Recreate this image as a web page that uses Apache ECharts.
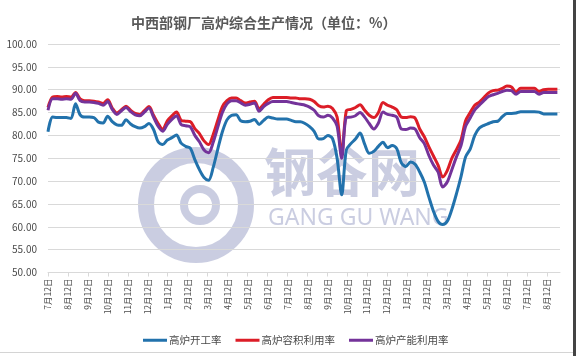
<!DOCTYPE html>
<html>
<head>
<meta charset="utf-8">
<script src="https://cdn.jsdelivr.net/npm/echarts@6/dist/echarts.min.js"></script>
<style>
html,body{margin:0;padding:0;background:#fff;}
#c{width:576px;height:356px;}
</style>
</head>
<body>
<div id="c"></div>
<script>
// Tick labels (monthly, on the 12th)
const monthLabels = ['7月12日','8月12日','9月12日','10月12日','11月12日','12月12日','1月12日','2月12日','3月12日','4月12日','5月12日','6月12日','7月12日','8月12日','9月12日','10月12日','11月12日','12月12日','1月12日','2月12日','3月12日','4月12日','5月12日','6月12日','7月12日','8月12日'];
const seriesNames = ['高炉开工率','高炉容积利用率','高炉产能利用率'];
// Weekly values starting at the first 7月12日
const openRate = [80.8,84.0,83.9,83.9,83.9,83.7,86.9,84.5,84.0,84.0,83.9,82.9,82.7,84.2,83.0,82.3,82.2,83.4,82.5,81.9,81.6,81.9,82.6,81.3,78.6,78.0,79.0,79.5,80.1,78.3,77.6,77.2,74.7,72.5,70.8,70.2,73.0,77.0,80.8,83.4,84.4,84.5,83.2,83.0,83.1,83.5,82.4,83.3,84.0,83.8,83.6,83.6,83.6,83.3,83.0,83.0,82.6,81.9,80.9,79.2,79.3,80.0,79.3,75.0,67.0,76.8,78.2,79.2,80.5,78.1,76.1,76.5,77.6,78.5,77.3,77.8,77.1,74.0,73.2,74.2,73.7,72.0,69.8,66.5,63.4,61.2,60.5,61.2,63.8,67.2,71.0,75.3,77.0,80.0,81.6,82.2,82.6,83.0,83.1,84.1,84.8,84.8,84.9,85.2,85.2,85.2,85.2,85.1,84.7,84.7,84.7,84.7];
const volumeRate = [86.1,88.4,88.5,88.4,88.5,88.4,89.4,88.0,87.6,87.6,87.5,87.3,87.0,87.8,86.0,84.9,85.6,86.4,85.5,84.8,84.6,85.4,86.3,84.4,82.6,81.3,83.2,84.3,85.1,83.3,83.1,83.0,81.5,80.4,78.8,78.0,80.2,83.3,86.3,87.6,88.2,88.2,87.6,87.1,87.3,87.5,85.8,86.8,87.8,88.3,88.3,88.3,88.3,88.2,88.2,88.0,88.0,87.9,87.4,86.5,86.2,86.4,85.9,84.0,75.8,85.4,85.7,86.1,86.7,85.5,84.4,83.9,85.0,87.2,86.6,86.2,85.6,84.0,83.9,84.1,83.8,81.4,79.7,77.5,75.5,73.5,70.9,72.3,75.0,76.9,79.0,83.2,85.0,86.6,87.3,88.3,89.3,89.8,89.9,90.3,90.8,90.6,89.5,90.3,90.3,90.3,90.3,89.6,90.0,90.1,90.1,90.1];
const capacityRate = [85.5,88.0,88.0,87.9,88.0,87.9,89.2,87.6,87.3,87.3,87.2,87.0,86.6,87.4,85.7,84.6,85.4,86.1,85.2,84.5,84.3,85.1,86.0,84.0,82.0,80.9,82.4,83.5,84.3,82.4,82.1,81.9,80.0,78.6,76.8,76.2,78.5,81.8,85.0,86.9,87.6,87.6,87.1,86.6,86.8,87.1,85.3,86.3,87.0,87.4,87.4,87.4,87.4,87.2,87.0,86.8,86.6,86.2,85.5,84.3,84.0,84.4,83.8,82.0,75.0,83.9,84.0,84.3,85.0,84.0,82.6,81.4,82.7,85.1,84.6,84.4,84.0,81.4,81.3,81.6,81.4,79.5,78.2,75.6,73.5,72.0,68.7,69.8,72.5,75.3,77.8,82.0,83.8,85.6,86.6,87.6,88.5,88.9,89.2,89.6,89.9,89.8,89.0,89.6,89.6,89.6,89.6,89.0,89.4,89.4,89.4,89.4];

const DAYS_PER_MONTH = 365.25 / 12;
const toPairs = arr => arr.map((v, i) => [i * 7, v]);
const monthTicks = monthLabels.map((_, k) => k * DAYS_PER_MONTH);

const chart = echarts.init(document.getElementById('c'), null, {renderer: 'canvas'});
const font = '"Noto Sans CJK SC", "Noto Sans", sans-serif';
const wm = 'rgba(150,156,196,0.5)';

chart.setOption({
  backgroundColor: '#ffffff',
  animation: false,
  title: {
    text: '中西部钢厂高炉综合生产情况（单位：%）',
    left: 126, top: 11,
    textStyle: {fontFamily: font, fontSize: 14, fontWeight: 'bold', color: '#595959'}
  },
  legend: {
    data: seriesNames,
    left: 138, top: 330,
    icon: 'rect', itemWidth: 24, itemHeight: 3, itemGap: 14,
    textStyle: {fontFamily: font, fontSize: 10.5, color: '#4a4a4a', padding: [0, 0, 0, -3]}
  },
  grid: {left: 48, right: 16, top: 44, bottom: 83.5, containLabel: false},
  xAxis: {
    type: 'value', min: 0, max: 781,
    axisLine: {show: true, lineStyle: {color: '#d9d9d9', width: 1}},
    axisTick: {show: true, length: 4, lineStyle: {color: '#d9d9d9'}, customValues: monthTicks},
    splitLine: {show: false},
    axisLabel: {
      customValues: monthTicks,
      rotate: 90, margin: 6,
      fontFamily: font, fontSize: 8.5, color: '#4a4a4a',
      formatter: v => monthLabels[Math.round(v / DAYS_PER_MONTH)] || ''
    }
  },
  yAxis: {
    type: 'value', min: 50, max: 100, interval: 5,
    axisLine: {show: false}, axisTick: {show: false},
    splitLine: {lineStyle: {color: '#d9d9d9', width: 1}},
    axisLabel: {fontFamily: font, fontSize: 10, color: '#4a4a4a', margin: 11,
      formatter: v => v.toFixed(2)}
  },
  graphic: [
    {type: 'rect', shape: {x: 573, y: 0, width: 3, height: 356}, style: {fill: '#444'}, z: 100},
    {type: 'rect', shape: {x: 0, y: 352, width: 573, height: 1}, style: {fill: '#d4d4d4'}, z: 100},
    {type: 'circle', shape: {cx: 196, cy: 205, r: 50}, style: {fill: 'none', stroke: wm, lineWidth: 16}, z: -1},
    {type: 'circle', shape: {cx: 200, cy: 205, r: 16}, style: {fill: 'none', stroke: wm, lineWidth: 8}, z: -1},
    {type: 'text', x: 264, y: 146, style: {text: '钢谷网', font: 'bold 52px "Noto Sans CJK SC"', fill: wm, letterSpacing: 12}, z: -1},
    {type: 'text', x: 268, y: 207, style: {text: 'GANG GU WANG', font: '23px "Noto Sans"', fill: wm, letterSpacing: 2}, z: -1}
  ],
  series: [
    {name: seriesNames[0], type: 'line', data: toPairs(openRate), showSymbol: false, smooth: 0.3,
      lineStyle: {width: 3, color: '#2272ac'}, itemStyle: {color: '#2272ac'}},
    {name: seriesNames[1], type: 'line', data: toPairs(volumeRate), showSymbol: false, smooth: 0.3,
      lineStyle: {width: 3, color: '#dc1d27'}, itemStyle: {color: '#dc1d27'}},
    {name: seriesNames[2], type: 'line', data: toPairs(capacityRate), showSymbol: false, smooth: 0.3,
      lineStyle: {width: 3, color: '#74339a'}, itemStyle: {color: '#74339a'}}
  ]
});
</script>
</body>
</html>
